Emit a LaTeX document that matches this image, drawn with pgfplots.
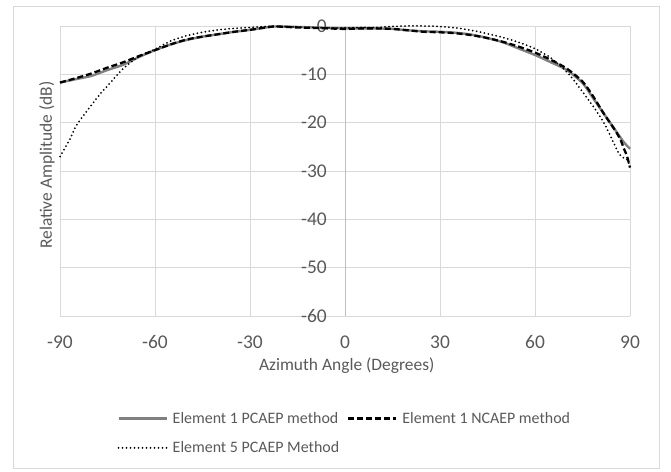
\documentclass[border=0pt]{standalone}
\usepackage{fontspec}
\setmainfont{Carlito}
\usepackage{pgfplots}
\usepackage{pgfplotstable}
\pgfplotsset{compat=1.18}
\definecolor{txtgray}{HTML}{595959}
\definecolor{gridgray}{HTML}{D9D9D9}
\definecolor{axgray}{HTML}{BFBFBF}
\definecolor{sergray}{HTML}{808080}

\pgfplotstableread{
x y
-90 -11.7
-85 -11.0
-80 -10.3
-75 -9.1
-70 -8.0
-65 -6.4
-60 -5.0
-55 -3.8
-50 -2.9
-45 -2.2
-40 -1.7
-35 -1.2
-30 -0.8
-25 -0.3
-22 -0.1
-15 -0.2
-10 -0.3
-5 -0.4
0 -0.5
5 -0.5
10 -0.5
15 -0.6
20 -0.9
25 -1.1
30 -1.2
35 -1.4
40 -1.8
45 -2.5
50 -3.4
55 -4.7
60 -6.0
65 -7.5
70 -9.1
75 -11.8
78 -14.6
80 -16.5
82 -18.4
85 -21.2
88 -24.0
90 -25.4
}\pcaepone

\pgfplotstableread{
x y
-90 -11.7
-85 -10.8
-80 -9.8
-75 -8.6
-70 -7.5
-65 -6.2
-60 -5.0
-55 -3.8
-50 -2.8
-45 -2.2
-40 -1.7
-35 -1.2
-30 -0.8
-25 -0.3
-22 -0.1
-15 -0.3
-10 -0.4
-5 -0.5
0 -0.6
5 -0.5
10 -0.5
15 -0.6
20 -0.9
25 -1.2
30 -1.3
35 -1.5
40 -1.9
45 -2.5
50 -3.3
55 -4.3
60 -5.5
65 -7.0
70 -8.8
75 -11.5
78 -14.2
80 -16.3
82 -18.4
85 -21.3
87 -23.5
88 -25.3
89 -26.8
90 -29.3
}\ncaepone

\pgfplotstableread{
x y
-90 -27.0
-87 -23.6
-85 -20.8
-82 -18.0
-80 -16.3
-77 -13.8
-75 -12.4
-70 -8.8
-65 -6.3
-60 -4.8
-55 -3.1
-50 -2.0
-45 -1.3
-40 -0.8
-35 -0.5
-30 -0.3
-25 -0.1
-20 -0.1
-15 -0.2
-10 -0.3
-5 -0.4
0 -0.4
5 -0.3
10 -0.3
15 -0.1
20 0.0
25 0.0
30 -0.1
35 -0.4
40 -0.9
45 -1.6
50 -2.4
55 -3.4
60 -4.7
65 -6.6
70 -9.5
72 -11.0
75 -13.6
78 -16.3
80 -18.2
82 -20.3
84 -23.0
86 -25.8
87 -26.8
88 -27.3
89 -27.6
90 -29.0
}\pcaepfive

\begin{document}
\begin{tikzpicture}
\useasboundingbox (0bp,0bp) rectangle (671bp,472bp);
\draw[gridgray, line width=1bp] (13.5bp,3.5bp) rectangle (659.5bp,465.5bp);
\begin{axis}[
  at={(60bp,156bp)}, anchor=south west,
  scale only axis, width=570bp, height=290bp,
  xmin=-90, xmax=90, ymin=-60, ymax=0,
  xtick={-90,-60,...,90}, ytick={-60,-50,...,0},
  grid=major,
  major grid style={gridgray, line width=1bp},
  extra x ticks={0}, extra x tick labels={},
  extra x tick style={major grid style={axgray, line width=1bp}},
  axis line style={draw=none},
  tick style={draw=none},
  clip=false,
  /pgf/number format/assume math mode=true,
  tick label style={font=\fontsize{19.5}{22}\selectfont, text=txtgray},
  xticklabel style={anchor=center, yshift=-26bp},
  yticklabel style={anchor=east, inner sep=0pt, xshift=267bp},
  xlabel={Azimuth Angle (Degrees)},
  ylabel={Relative Amplitude (dB)},
  every axis x label/.style={at={(axis description cs:0.503,-0.172)}, anchor=center, font=\fontsize{17.5}{20}\selectfont, text=txtgray},
  every axis y label/.style={at={(axis description cs:-0.0228,0.52)}, anchor=center, rotate=90, font=\fontsize{17.5}{20}\selectfont, text=txtgray},
  legend columns=2,
  legend style={at={(axis description cs:0.095,-0.317)}, anchor=north west, draw=none, fill=none,
    font=\fontsize{16}{19}\selectfont, text=txtgray, row sep=13bp,
    /tikz/every odd column/.append style={column sep=3bp},
    /tikz/every even column/.append style={column sep=6bp}},
  legend cell align=left,
  legend image code/.code={\draw[#1] (0bp,0bp) -- (48bp,0bp);},
]
\addplot[sergray, line width=2.4bp, smooth] table {\pcaepone};
\addlegendentry{Element 1 PCAEP method}
\addplot[black, line width=2.3bp, dash pattern=on 6bp off 3bp, smooth] table {\ncaepone};
\addlegendentry{Element 1 NCAEP method}
\addplot[black, line width=2bp, line cap=round, dash pattern=on 0bp off 4bp, smooth] table {\pcaepfive};
\addlegendentry{Element 5 PCAEP Method}
\end{axis}
\end{tikzpicture}
\end{document}
